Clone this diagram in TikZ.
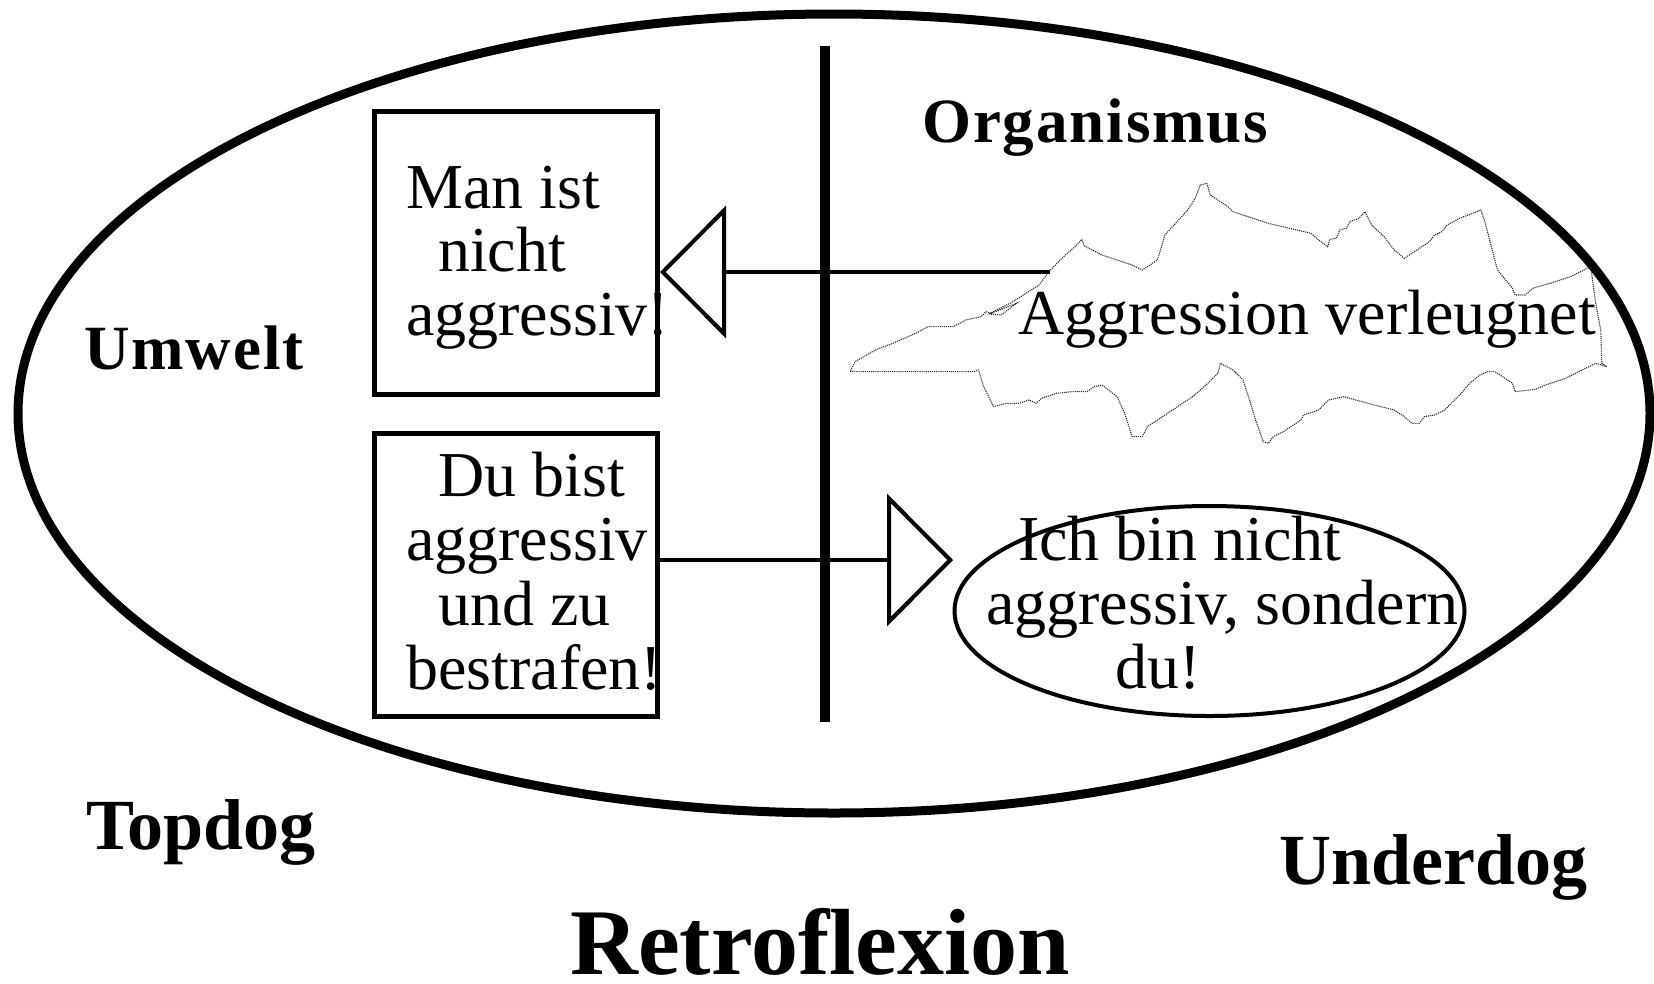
\documentclass[tikz,border=0pt]{standalone}
\usepackage{fontspec}
\setmainfont{Liberation Serif}
\newfontfamily\spacedb[LetterSpace=3]{Liberation Serif}
\usetikzlibrary{arrows.meta,shapes.geometric}
\begin{document}
\begin{tikzpicture}[x=1pt,y=-1pt,
  box/.style={draw, line width=5pt, minimum width=283pt, minimum height=283pt, inner sep=0pt},
  txt/.style={anchor=base west, inner sep=0pt, font=\fontsize{64}{64}\selectfont},
  lbl/.style={anchor=base west, inner sep=0pt, font=\spacedb\bfseries\fontsize{63}{70}\selectfont},
  dog/.style={anchor=base west, inner sep=0pt, font=\bfseries\fontsize{72}{84}\selectfont},
  title/.style={anchor=base west, inner sep=0pt, font=\bfseries\fontsize{94}{110}\selectfont},
  conn/.style={line width=4pt},
  hollow/.style={-{Triangle[open, length=66pt, width=132pt, line width=4pt]}},
  cloud/.style={black!85, line width=1.1pt, densely dotted}
]
\useasboundingbox (0,0) rectangle (1654,983);

% outer boundary and the contact line
\draw[line width=9pt] (834,413.5) ellipse [x radius=816, y radius=399.5];
\coordinate (ctop) at (824.5,46);
\coordinate (cbot) at (824.5,722);
\draw[line width=10pt] (ctop) -- (cbot);

% the two introjected messages
\node[txt] (m1) at (406,208) {Man ist};
\node[txt] (m2) at (438,271) {nicht};
\node[txt] (m3) at (406,335) {aggressiv!};

\node[txt] (d1) at (438,496) {Du bist};
\node[txt] (d2) at (406,560) {aggressiv};
\node[txt] (d3) at (438,625) {und zu};
\node[txt] (d4) at (406,689) {bestrafen!};

\node[box] (box1) at (516,252.5) {};
\node[box] (box2) at (516,574.5) {};

% the self-statement
\node[ellipse, minimum width=510pt, minimum height=210pt, inner sep=0pt] (self) at (1209.5,611) {};
\draw[line width=4pt] (self.center) ellipse [x radius=255, y radius=105];
\node[txt] (i1) at (1018,560) {Ich bin nicht};
\node[txt] (i2) at (986,624) {aggressiv, sondern};
\node[txt] (i3) at (1115,688) {du!};

% denied aggression (torn cloud outline)
\begin{scope}[shift={(840,170)}, xscale=0.5038, yscale=0.3333]
\draw[cloud] (415,305) -- (440,265) -- (470,225) -- (480,208) -- (485,228) -- (520,255)
  -- (580,285) -- (600,300) -- (615,285) -- (630,270) -- (645,195) -- (660,170)
  -- (690,120) -- (705,85) -- (715,45) -- (728,40) -- (735,75) -- (770,110)
  -- (780,125) -- (850,160) -- (935,190) -- (950,210) -- (968,230) -- (972,208)
  -- (985,205) -- (992,180) -- (1005,175) -- (1012,155) -- (1030,145) -- (1042,125)
  -- (1055,165) -- (1080,200) -- (1100,240) -- (1120,265) -- (1140,245) -- (1170,215)
  -- (1180,195) -- (1195,185) -- (1205,165) -- (1230,145) -- (1272,120) -- (1280,155)
  -- (1305,300) -- (1335,355) -- (1340,375) -- (1360,375) -- (1375,355) -- (1420,335)
  -- (1450,320) -- (1490,290) -- (1500,400) -- (1510,480) -- (1512,580) -- (1522,590)
  -- (1500,580) -- (1480,595) -- (1440,625) -- (1400,645) -- (1380,658) -- (1340,665)
  -- (1335,640) -- (1320,625) -- (1300,605) -- (1285,605) -- (1270,615) -- (1250,640)
  -- (1230,675) -- (1200,720) -- (1180,735) -- (1160,740) -- (1150,760) -- (1135,760)
  -- (1120,740) -- (1100,720) -- (1060,705) -- (1000,680) -- (970,690) -- (950,720)
  -- (920,735) -- (915,750) -- (905,760) -- (880,785) -- (860,800) -- (850,820)
  -- (840,815) -- (825,750) -- (815,700) -- (800,630) -- (780,600) -- (755,580)
  -- (750,610) -- (730,640) -- (700,680) -- (660,720) -- (610,770) -- (600,800)
  -- (580,800) -- (565,730) -- (550,680) -- (520,645) -- (505,650) -- (490,665)
  -- (460,665) -- (430,670) -- (400,685) -- (390,700) -- (375,690) -- (355,700)
  -- (330,700) -- (305,710) -- (295,680) -- (285,650) -- (275,600) -- (265,605)
  -- (180,605) -- (20,605) -- (30,575) -- (70,540) -- (105,520) -- (150,490)
  -- (175,470) -- (225,470) -- (250,450) -- (280,440) -- (290,425) -- (300,430)
  -- (350,400) -- (320,435) -- (295,432) -- (340,398) -- (395,345) -- cycle;
\end{scope}
\node[txt] (agg) at (1018,334) {Aggression verleugnet};

% connectors
\coordinate (c1) at (1050,272);
\draw[conn, hollow] (c1) -- (box1.east |- c1);
\coordinate (t2) at (953,560);
\draw[conn, hollow] (box2.east |- t2) -- (t2);

% labels
\node[lbl] (org) at (922,142) {Organismus};
\node[lbl] (umw) at (84,369) {Umwelt};
\node[dog] (top) at (86,849) {Topdog};
\node[dog] (under) at (1279,884) {Underdog};
\node[title] (retro) at (570,974) {Retroflexion};
\end{tikzpicture}
\end{document}
